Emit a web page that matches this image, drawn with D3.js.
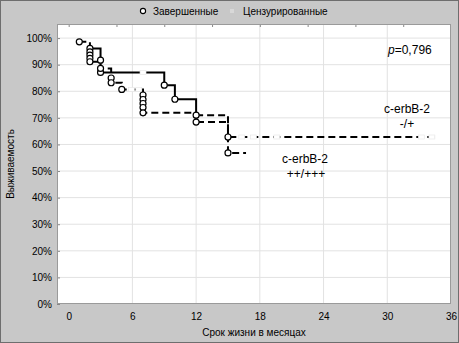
<!DOCTYPE html>
<html>
<head>
<meta charset="utf-8">
<script src="https://cdn.jsdelivr.net/npm/d3@7"></script>
<style>
  body { margin: 0; background: #fff; }
  svg { display: block; font-family: "Liberation Sans", Arial, sans-serif; }
</style>
</head>
<body>
<div id="chart"></div>
<script>
// axis ticks
const xTicks = [0, 6, 12, 18, 24, 30, 36];
const yTicks = [0, 10, 20, 30, 40, 50, 60, 70, 80, 90, 100];
const topTicks = [0, 4.5, 9, 13.5, 18, 22.5, 27, 31.5];

// group c-erbB-2 -/+ : [month, survival % after event]
const eventsA = [[2, 96.1], [3, 91.7], [3, 87.1], [9, 82.3], [10, 77], [12, 71], [15, 62.8]];
const endA = 34.5;
const solidUntilA = 12;
const censoredA = [7, 16.3, 17.4, 19.6, 33.2, 34.2];

// group c-erbB-2 ++/+++
const eventsB = [[1, 98.6], [2, 94.8], [2, 93.6], [2, 92.4], [2, 91.1], [3, 88.6],
  [4, 85], [4, 83.2], [5, 80.7], [7, 78.6], [7, 76.9], [7, 75.4], [7, 73.9], [7, 71.9],
  [12, 68.4], [15, 56.8]];
const endB = 16.7;
const censoredB = [5.9, 6.6];

const width = 459, height = 343;
const plot = {left: 57, top: 24, right: 451, bottom: 304};

const svg = d3.select("#chart").append("svg")
  .attr("width", width)
  .attr("height", height);

// frame
svg.append("rect")
  .attr("x", 0.5).attr("y", 0.5)
  .attr("width", width - 1).attr("height", height - 1)
  .attr("fill", "#c8c8c8")
  .attr("stroke", "#6e6e6e");

const x = d3.scaleLinear().domain([-1.1, 36]).range([plot.left, plot.right]);
const y = d3.scaleLinear().domain([0, 105.3]).range([plot.bottom, plot.top]);

svg.append("rect")
  .attr("x", plot.left).attr("y", plot.top)
  .attr("width", plot.right - plot.left).attr("height", plot.bottom - plot.top)
  .attr("fill", "#fff");

// grid
svg.append("g")
  .selectAll("line")
  .data(xTicks.filter(d => d > 0 && d < 36))
  .enter().append("line")
    .attr("x1", d => x(d)).attr("x2", d => x(d))
    .attr("y1", plot.top).attr("y2", plot.bottom)
    .attr("stroke", "#e2e2e2");
svg.append("g")
  .selectAll("line")
  .data(yTicks.filter(d => d > 0))
  .enter().append("line")
    .attr("x1", plot.left).attr("x2", plot.right)
    .attr("y1", d => y(d)).attr("y2", d => y(d))
    .attr("stroke", "#e2e2e2");

// axes
const xAxis = d3.axisBottom(x).tickValues(xTicks).tickSize(0).tickPadding(9);
svg.append("g")
  .attr("transform", `translate(0,${plot.bottom})`)
  .call(xAxis)
  .call(g => g.select(".domain").remove())
  .call(g => g.selectAll("text").attr("font-size", 10).attr("fill", "#000")
    .attr("font-family", "Liberation Sans, Arial, sans-serif"));

const yAxis = d3.axisLeft(y).tickValues(yTicks).tickSize(-3).tickPadding(5)
  .tickFormat(d => d + "%");
svg.append("g")
  .attr("transform", `translate(${plot.left},0)`)
  .call(yAxis)
  .call(g => g.select(".domain").remove())
  .call(g => g.selectAll(".tick line").attr("stroke", "#888"))
  .call(g => g.selectAll("text").attr("font-size", 10).attr("fill", "#000")
    .attr("font-family", "Liberation Sans, Arial, sans-serif"));

const topAxis = d3.axisBottom(x).tickValues(topTicks).tickSize(3).tickFormat("");
svg.append("g")
  .attr("transform", `translate(0,${plot.top})`)
  .call(topAxis)
  .call(g => g.select(".domain").remove())
  .call(g => g.selectAll(".tick line").attr("stroke", "#888"));

svg.append("rect")
  .attr("x", plot.left + 0.5).attr("y", plot.top + 0.5)
  .attr("width", plot.right - plot.left - 1).attr("height", plot.bottom - plot.top - 1)
  .attr("fill", "none")
  .attr("stroke", "#9a9a9a");

// Kaplan-Meier step points
function steps(events, end) {
  const pts = [events[0]];
  for (let i = 1; i < events.length; i++) {
    pts.push([events[i][0], events[i - 1][1]]);
    pts.push(events[i]);
  }
  pts.push([end, events[events.length - 1][1]]);
  return pts;
}
function survivalAt(events, t) {
  let p = events[0][1];
  events.forEach(e => { if (e[0] <= t) p = e[1]; });
  return p;
}

const line = d3.line().x(d => x(d[0])).y(d => y(d[1]));

const ptsA = steps(eventsA, endA);
let cut = 0;
ptsA.forEach((d, i) => { if (d[0] <= solidUntilA) cut = i; });
const ptsB = steps(eventsB, endB);

const curves = svg.append("g")
  .attr("fill", "none")
  .attr("stroke", "#000")
  .attr("stroke-width", 2);
curves.append("path").attr("d", line(ptsA.slice(0, cut + 1)));
curves.append("path").attr("d", line(ptsA.slice(cut))).attr("stroke-dasharray", "7,4");
curves.append("path").attr("d", line(ptsB)).attr("stroke-dasharray", "7,4");

// censored marks
const cens = censoredA.map(t => [t, survivalAt(eventsA, t)])
  .concat(censoredB.map(t => [t, survivalAt(eventsB, t)]));
svg.append("g")
  .selectAll("rect")
  .data(cens)
  .enter().append("rect")
    .attr("x", d => x(d[0]) - 3)
    .attr("y", d => y(d[1]) - 2)
    .attr("width", 6).attr("height", 4)
    .attr("fill", "#fff")
    .attr("stroke", "#e4e4e4")
    .attr("stroke-width", 0.6);

// completed events
svg.append("g")
  .selectAll("circle")
  .data(eventsA.concat(eventsB))
  .enter().append("circle")
    .attr("cx", d => x(d[0]))
    .attr("cy", d => y(d[1]))
    .attr("r", 3)
    .attr("fill", "#fff")
    .attr("stroke", "#000")
    .attr("stroke-width", 1.2);

// legend
const legend = svg.append("g").attr("font-size", 10);
legend.append("circle")
  .attr("cx", 143).attr("cy", 11).attr("r", 2.6)
  .attr("fill", "#fff").attr("stroke", "#000").attr("stroke-width", 1.1);
legend.append("text").attr("x", 153).attr("y", 15).text("Завершенные");
legend.append("rect")
  .attr("x", 230).attr("y", 9).attr("width", 4).attr("height", 4)
  .attr("fill", "#d8d8d8");
legend.append("text").attr("x", 243).attr("y", 15).text("Цензурированные");

// axis titles
svg.append("text")
  .attr("x", (plot.left + plot.right) / 2).attr("y", 336)
  .attr("text-anchor", "middle").attr("font-size", 10)
  .text("Срок жизни в месяцах");
svg.append("text")
  .attr("transform", `translate(14,${(plot.top + plot.bottom) / 2}) rotate(-90)`)
  .attr("text-anchor", "middle").attr("font-size", 10)
  .text("Выживаемость");

// annotations
const notes = svg.append("g").attr("font-size", 12).attr("text-anchor", "middle");
notes.append("text").attr("x", 407).attr("y", 113).text("c-erbB-2");
notes.append("text").attr("x", 407).attr("y", 128).text("-/+");
notes.append("text").attr("x", 305).attr("y", 163).text("c-erbB-2");
notes.append("text").attr("x", 306).attr("y", 178).text("++/+++");

const pText = svg.append("text").attr("x", 388).attr("y", 54).attr("font-size", 12);
pText.append("tspan").attr("font-style", "italic").text("p");
pText.append("tspan").text("=0,796");
</script>
</body>
</html>
